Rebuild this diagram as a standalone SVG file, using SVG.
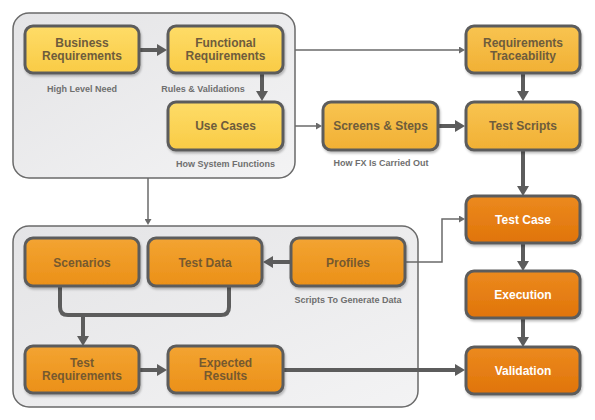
<svg xmlns="http://www.w3.org/2000/svg" width="595" height="420" viewBox="0 0 595 420">
<defs>
<style>
.cont{fill:url(#gCont);stroke:#6a6a6a;stroke-width:1.5}
.box{stroke:#5c5c5c;stroke-width:3;filter:url(#sh)}
.y{fill:url(#gY)}
.lo{fill:url(#gLO)}
.o{fill:url(#gO)}
.do{fill:url(#gDO)}
.t{font-family:"Liberation Sans",Arial,sans-serif;font-weight:bold;font-size:12px;text-anchor:middle}
.ty{fill:#6e5c3c}
.to{fill:#76592f}
.tw{fill:#ffffff}
.lbl{font-family:"Liberation Sans",Arial,sans-serif;font-weight:bold;font-size:9px;fill:#6f6f6f;text-anchor:middle}
.thin{fill:none;stroke:#6a6a6a;stroke-width:1.5;marker-end:url(#aThin)}
.thick{fill:none;stroke:#5c5c5c;stroke-width:4;marker-end:url(#aThick)}
.brk{fill:none;stroke:#5c5c5c;stroke-width:4}
</style>
<linearGradient id="gCont" x1="0" y1="0" x2="1" y2="1"><stop offset="0" stop-color="#e4e4e6"/><stop offset="1" stop-color="#f3f3f4"/></linearGradient>
<linearGradient id="gY" x1="0" y1="0" x2="0" y2="1"><stop offset="0" stop-color="#fedc68"/><stop offset="1" stop-color="#f9cb45"/></linearGradient>
<linearGradient id="gLO" x1="0" y1="0" x2="0" y2="1"><stop offset="0" stop-color="#f8c451"/><stop offset="1" stop-color="#f1b034"/></linearGradient>
<linearGradient id="gO" x1="0" y1="0" x2="0" y2="1"><stop offset="0" stop-color="#f3a432"/><stop offset="1" stop-color="#eb9018"/></linearGradient>
<linearGradient id="gDO" x1="0" y1="0" x2="0" y2="1"><stop offset="0" stop-color="#ec8a1e"/><stop offset="1" stop-color="#e0740a"/></linearGradient>
<filter id="sh" x="-10%" y="-10%" width="130%" height="140%"><feDropShadow dx="1" dy="2" stdDeviation="1.2" flood-color="#000" flood-opacity="0.25"/></filter>
<marker id="aThick" viewBox="0 0 10 12" refX="4" refY="6" markerWidth="10" markerHeight="12" markerUnits="userSpaceOnUse" orient="auto"><path d="M0,0 L10,6 L0,12 z" fill="#5c5c5c"/></marker>
<marker id="aThin" viewBox="0 0 6 7" refX="1" refY="3.5" markerWidth="6" markerHeight="7" markerUnits="userSpaceOnUse" orient="auto"><path d="M0,0 L6,3.5 L0,7 z" fill="#6a6a6a"/></marker>
</defs>
<rect width="595" height="420" fill="#ffffff"/>
<g id="containers">
<rect class="cont" x="13" y="13" width="282" height="165" rx="16"/>
<rect class="cont" x="13" y="226" width="405" height="181" rx="16"/>
</g>
<g id="connectors">
<line class="thick" x1="139" y1="50" x2="161" y2="50"/>
<line class="thick" x1="262" y1="73" x2="262" y2="95"/>
<line class="thin" x1="295" y1="50" x2="460" y2="50"/>
<line class="thin" x1="295" y1="126" x2="317" y2="126"/>
<line class="thick" x1="438" y1="126" x2="459" y2="126"/>
<line class="thick" x1="523" y1="73" x2="523" y2="95"/>
<line class="thick" x1="523" y1="150" x2="523" y2="190"/>
<line class="thick" x1="523" y1="243" x2="523" y2="265"/>
<line class="thick" x1="523" y1="318" x2="523" y2="341"/>
<line class="thin" x1="148" y1="178" x2="148" y2="220"/>
<line class="thick" x1="291" y1="262" x2="269" y2="262"/>
<path class="thin" d="M405,262 H442 V219 H460"/>
<path class="brk" d="M60,286 V307 Q60,315 68,315 H221 Q229,315 229,307 V286"/>
<line class="thick" x1="83" y1="315" x2="83" y2="340"/>
<line class="thick" x1="139" y1="370" x2="161" y2="370"/>
<line class="thick" x1="283" y1="370" x2="459" y2="370"/>
</g>
<g id="business-requirements"><rect class="box y" x="25" y="26" width="114" height="47" rx="8"/><text class="t ty" x="82" y="47">Business</text><text class="t ty" x="82" y="60">Requirements</text><text class="lbl" x="82" y="92">High Level Need</text></g>
<g id="functional-requirements"><rect class="box y" x="168" y="26" width="115" height="47" rx="8"/><text class="t ty" x="225.5" y="47">Functional</text><text class="t ty" x="225.5" y="60">Requirements</text><text class="lbl" x="203" y="92">Rules &amp; Validations</text></g>
<g id="use-cases"><rect class="box y" x="168" y="102" width="115" height="48" rx="8"/><text class="t ty" x="225.5" y="130">Use Cases</text><text class="lbl" x="225.5" y="167">How System Functions</text></g>
<g id="requirements-traceability"><rect class="box lo" x="466" y="26" width="114" height="47" rx="8"/><text class="t ty" x="523" y="47">Requirements</text><text class="t ty" x="523" y="60">Traceability</text></g>
<g id="screens-steps"><rect class="box lo" x="323" y="102" width="115" height="48" rx="8"/><text class="t ty" x="380.5" y="130">Screens &amp; Steps</text><text class="lbl" x="381" y="166">How FX Is Carried Out</text></g>
<g id="test-scripts"><rect class="box lo" x="466" y="102" width="114" height="48" rx="8"/><text class="t ty" x="523" y="130">Test Scripts</text></g>
<g id="test-case"><rect class="box do" x="466" y="196" width="114" height="47" rx="8"/><text class="t tw" x="523" y="224">Test Case</text></g>
<g id="execution"><rect class="box do" x="466" y="271" width="114" height="47" rx="8"/><text class="t tw" x="523" y="299">Execution</text></g>
<g id="validation"><rect class="box do" x="466" y="347" width="114" height="47" rx="8"/><text class="t tw" x="523" y="375">Validation</text></g>
<g id="scenarios"><rect class="box o" x="25" y="238" width="114" height="48" rx="8"/><text class="t to" x="82" y="267">Scenarios</text></g>
<g id="test-data"><rect class="box o" x="148" y="238" width="114" height="48" rx="8"/><text class="t to" x="205" y="267">Test Data</text></g>
<g id="profiles"><rect class="box o" x="291" y="238" width="114" height="48" rx="8"/><text class="t to" x="348" y="267">Profiles</text><text class="lbl" x="348" y="303">Scripts To Generate Data</text></g>
<g id="test-requirements"><rect class="box o" x="25" y="346" width="114" height="47" rx="8"/><text class="t to" x="82" y="367">Test</text><text class="t to" x="82" y="380">Requirements</text></g>
<g id="expected-results"><rect class="box o" x="168" y="346" width="115" height="47" rx="8"/><text class="t to" x="225.5" y="367">Expected</text><text class="t to" x="225.5" y="380">Results</text></g>
</svg>
